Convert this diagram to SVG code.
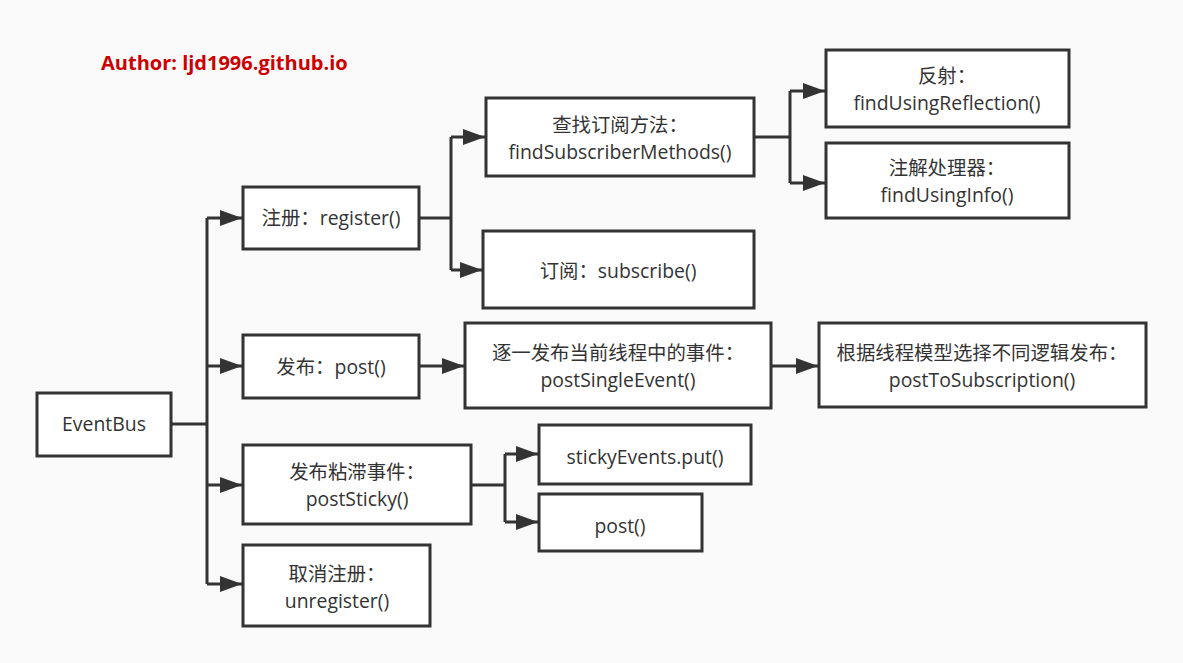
<svg xmlns="http://www.w3.org/2000/svg" width="1183" height="663" viewBox="0 0 1183 663">
<defs>
<marker id="arr" markerUnits="userSpaceOnUse" markerWidth="24" markerHeight="18" refX="22" refY="8" orient="auto">
<path d="M0,0 L22,8 L0,16 z" fill="#333"/>
</marker>
<style>
.box{fill:#fff;stroke:#333;stroke-width:3}
.t{font-family:"Open Sans","Noto Sans CJK SC",sans-serif;font-size:19.4px;fill:#333;text-anchor:middle}
.c{fill:none;stroke:#333;stroke-width:3}
.a{fill:none;stroke:#333;stroke-width:3;marker-end:url(#arr)}
</style>
</defs>
<rect width="1183" height="663" fill="#fafafa"/>
<text x="101" y="70" font-family="'Open Sans','Liberation Sans',sans-serif" font-size="20" font-weight="bold" fill="#cc0000">Author: ljd1996.github.io</text>
<g id="connectors">
<path class="c" d="M171,424 H207 M207,218 V584"/>
<path class="a" d="M207,218 H242"/>
<path class="a" d="M207,366 H242"/>
<path class="a" d="M207,485 H242"/>
<path class="a" d="M207,584 H242"/>
<path class="c" d="M419,218 H451 M451,137 V270"/>
<path class="a" d="M451,137 H485"/>
<path class="a" d="M451,270 H482"/>
<path class="c" d="M754,137 H790 M790,91 V183"/>
<path class="a" d="M790,91 H825"/>
<path class="a" d="M790,183 H825"/>
<path class="a" d="M419,366 H464"/>
<path class="a" d="M771,366 H818"/>
<path class="c" d="M471,485 H505 M505,454 V522"/>
<path class="a" d="M505,454 H538"/>
<path class="a" d="M505,522 H538"/>
</g>
<g id="eventbus"><rect class="box" x="37" y="393" width="134" height="63"/><text class="t" x="104" y="431">EventBus</text></g>
<g id="register"><rect class="box" x="243" y="187" width="176" height="62"/><text class="t" x="331" y="225">注册：register()</text></g>
<g id="findSubscriberMethods"><rect class="box" x="486" y="98" width="268" height="78"/><text class="t" x="620" y="132">查找订阅方法：</text><text class="t" x="620" y="159">findSubscriberMethods()</text></g>
<g id="findUsingReflection"><rect class="box" x="826" y="50" width="243" height="77"/><text class="t" x="947" y="83">反射：</text><text class="t" x="947" y="110">findUsingReflection()</text></g>
<g id="findUsingInfo"><rect class="box" x="826" y="143" width="243" height="75"/><text class="t" x="947" y="175">注解处理器：</text><text class="t" x="947" y="202">findUsingInfo()</text></g>
<g id="subscribe"><rect class="box" x="483" y="231" width="271" height="77"/><text class="t" x="618" y="278">订阅：subscribe()</text></g>
<g id="post"><rect class="box" x="243" y="335" width="176" height="63"/><text class="t" x="331" y="374">发布：post()</text></g>
<g id="postSingleEvent"><rect class="box" x="465" y="323" width="306" height="85"/><text class="t" x="618" y="360">逐一发布当前线程中的事件：</text><text class="t" x="618" y="387">postSingleEvent()</text></g>
<g id="postToSubscription"><rect class="box" x="819" y="323" width="327" height="84"/><text class="t" x="982" y="360">根据线程模型选择不同逻辑发布：</text><text class="t" x="982" y="387">postToSubscription()</text></g>
<g id="postSticky"><rect class="box" x="243" y="445" width="228" height="79"/><text class="t" x="357" y="479">发布粘滞事件：</text><text class="t" x="357" y="506">postSticky()</text></g>
<g id="stickyEventsPut"><rect class="box" x="539" y="425" width="212" height="59"/><text class="t" x="645" y="464">stickyEvents.put()</text></g>
<g id="post2"><rect class="box" x="539" y="494" width="163" height="57"/><text class="t" x="620" y="533">post()</text></g>
<g id="unregister"><rect class="box" x="243" y="545" width="187" height="81"/><text class="t" x="337" y="581">取消注册：</text><text class="t" x="337" y="608">unregister()</text></g>
</svg>
